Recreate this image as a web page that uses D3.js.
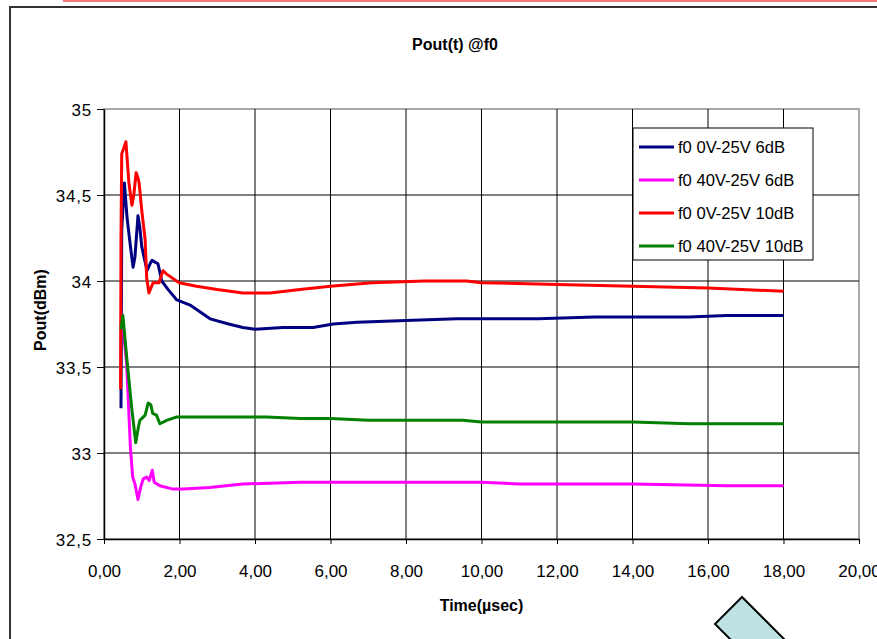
<!DOCTYPE html>
<html lang="en">
<head>
  <meta charset="UTF-8" />
  <title>Pout(t) @f0</title>
  <script src="https://d3js.org/d3.v7.min.js"></script>
  <style>
    body {
      margin: 0;
      background: #fff;
      font-family: 'Liberation Sans', Arial, sans-serif;
    }
    svg { display: block; }
    .tick text { fill: #000; }
  </style>
</head>
<body>
  <svg id="chart" width="877" height="639"></svg>

  <script>
    // series data (time in µsec, power in dBm)
    const seriesNames = ["f0 0V-25V 6dB", "f0 40V-25V 6dB", "f0 0V-25V 10dB", "f0 40V-25V 10dB"];
    const seriesColors = ["#000080", "#ff00ff", "#ff0000", "#008000"];

    const blueT = [0.45, 0.47, 0.54, 0.61, 0.69, 0.77, 0.82, 0.9, 0.95, 1.0, 1.14, 1.22, 1.27, 1.35, 1.43, 1.53, 1.7, 1.93, 2.28, 2.81, 3.3, 3.68, 4.0, 4.74, 5.54, 6.07, 6.7, 8.0, 9.35, 11.5, 13.0, 15.5, 16.5, 18.0];
    const blueV = [33.26, 34.3, 34.57, 34.37, 34.22, 34.08, 34.14, 34.38, 34.31, 34.2, 34.06, 34.1, 34.12, 34.11, 34.1, 34.0, 33.95, 33.89, 33.86, 33.78, 33.75, 33.73, 33.72, 33.73, 33.73, 33.75, 33.76, 33.77, 33.78, 33.78, 33.79, 33.79, 33.8, 33.8];

    const magentaT = [0.47, 0.6, 0.7, 0.76, 0.82, 0.9, 0.97, 1.04, 1.13, 1.2, 1.28, 1.33, 1.48, 1.83, 2.1, 2.8, 3.68, 5.2, 7.0, 10.0, 11.0, 14.0, 16.5, 18.0];
    const magentaV = [33.81, 33.52, 33.03, 32.86, 32.82, 32.73, 32.8, 32.85, 32.86, 32.84, 32.9, 32.83, 32.81, 32.79, 32.79, 32.8, 32.82, 32.83, 32.83, 32.83, 32.82, 32.82, 32.81, 32.81];

    const redT = [0.44, 0.45, 0.47, 0.52, 0.58, 0.66, 0.74, 0.79, 0.85, 0.9, 0.93, 1.0, 1.09, 1.13, 1.19, 1.3, 1.46, 1.56, 1.66, 1.99, 2.45, 3.0, 3.68, 4.4, 5.19, 6.0, 7.1, 8.5, 9.6, 10.0, 12.0, 14.0, 16.0, 18.0];
    const redV = [33.37, 34.25, 34.74, 34.77, 34.81, 34.57, 34.44, 34.5, 34.63, 34.6, 34.57, 34.41, 34.24, 34.02, 33.93, 33.99, 33.99, 34.06, 34.04, 33.99, 33.97, 33.95, 33.93, 33.93, 33.95, 33.97, 33.99, 34.0, 34.0, 33.99, 33.98, 33.97, 33.96, 33.94];

    const greenT = [0.45, 0.5, 0.6, 0.73, 0.84, 0.91, 0.95, 1.09, 1.17, 1.24, 1.29, 1.39, 1.48, 1.66, 1.93, 3.0, 4.3, 5.2, 6.0, 7.0, 8.0, 9.5, 10.0, 12.0, 14.0, 15.5, 16.0, 18.0];
    const greenV = [33.72, 33.8, 33.56, 33.27, 33.06, 33.15, 33.19, 33.22, 33.29, 33.28, 33.23, 33.22, 33.17, 33.19, 33.21, 33.21, 33.21, 33.2, 33.2, 33.19, 33.19, 33.19, 33.18, 33.18, 33.18, 33.17, 33.17, 33.17];

    const xTicks = [0, 2, 4, 6, 8, 10, 12, 14, 16, 18, 20];
    const yTicks = [32.5, 33, 33.5, 34, 34.5, 35];

    const seriesT = [blueT, magentaT, redT, greenT];
    const seriesV = [blueV, magentaV, redV, greenV];

    const locale = d3.formatLocale({ decimal: ",", thousands: ".", grouping: [3], currency: ["", ""] });
    const fmtX = locale.format(".2f");
    const fmtY = locale.format(".1~f");

    const svg = d3.select("#chart");
    const plot = { left: 104, right: 859, top: 109, bottom: 539 };

    const x = d3.scaleLinear().domain([0, 20]).range([plot.left, plot.right]);
    const y = d3.scaleLinear().domain([32.5, 35]).range([plot.bottom, plot.top]);

    // pink strip at the very top and the chart frame
    svg.append("line")
      .attr("x1", 63).attr("x2", 877).attr("y1", 1).attr("y2", 1)
      .attr("stroke", "#f47a7a").attr("stroke-width", 2);
    svg.append("rect")
      .attr("x", 10).attr("y", 7).attr("width", 900).attr("height", 700)
      .attr("fill", "#fff").attr("stroke", "#333").attr("stroke-width", 2);

    // plot area border (top/right gray)
    svg.append("rect")
      .attr("x", plot.left).attr("y", plot.top)
      .attr("width", plot.right - plot.left).attr("height", plot.bottom - plot.top)
      .attr("fill", "none").attr("stroke", "#8c8c8c").attr("stroke-width", 1.5);

    // gridlines
    svg.append("g").selectAll("line")
      .data(xTicks.filter(d => d > 0 && d < 20)).enter().append("line")
      .attr("x1", d => x(d)).attr("x2", d => x(d))
      .attr("y1", plot.top).attr("y2", plot.bottom)
      .attr("stroke", "#000").attr("stroke-width", 1);
    svg.append("g").selectAll("line")
      .data(yTicks.filter(d => d > 32.5 && d < 35)).enter().append("line")
      .attr("x1", plot.left).attr("x2", plot.right)
      .attr("y1", d => y(d)).attr("y2", d => y(d))
      .attr("stroke", "#000").attr("stroke-width", 1);

    // axes
    const gx = svg.append("g")
      .attr("transform", `translate(0,${plot.bottom})`)
      .call(d3.axisBottom(x).tickValues(xTicks).tickFormat(fmtX).tickSizeInner(5).tickSizeOuter(0).tickPadding(21));
    const gy = svg.append("g")
      .attr("transform", `translate(${plot.left},0)`)
      .call(d3.axisLeft(y).tickValues(yTicks).tickFormat(fmtY).tickSizeInner(7).tickSizeOuter(0).tickPadding(5));
    [gx, gy].forEach(g => {
      g.select(".domain").attr("stroke", "#000").attr("stroke-width", 1.5);
      g.selectAll(".tick line").attr("stroke", "#000");
      g.selectAll(".tick text").attr("font-family", "'Liberation Sans', Arial, sans-serif").attr("font-size", 17);
    });
    gy.selectAll(".tick text").attr("dy", "0.36em").attr("letter-spacing", 0.8);

    // series lines
    const line = d3.line().x(d => x(d[0])).y(d => y(d[1]));
    seriesNames.forEach((name, i) => {
      const pts = seriesT[i].map((t, j) => [t, seriesV[i][j]]);
      svg.append("path")
        .datum(pts)
        .attr("d", line)
        .attr("fill", "none")
        .attr("stroke", seriesColors[i])
        .attr("stroke-width", 3)
        .attr("stroke-linejoin", "round");
    });

    // titles
    svg.append("text")
      .attr("x", 455).attr("y", 50)
      .attr("text-anchor", "middle")
      .attr("font-size", 16).attr("font-weight", "bold")
      .text("Pout(t) @f0");
    svg.append("text")
      .attr("x", (plot.left + plot.right) / 2).attr("y", 611)
      .attr("text-anchor", "middle")
      .attr("font-size", 16).attr("font-weight", "bold")
      .text("Time(µsec)");
    svg.append("text")
      .attr("transform", "translate(46,310) rotate(-90)")
      .attr("text-anchor", "middle")
      .attr("font-size", 16).attr("font-weight", "bold")
      .text("Pout(dBm)");

    // legend
    const legend = svg.append("g").attr("transform", "translate(633,128)");
    legend.append("rect")
      .attr("width", 180).attr("height", 132)
      .attr("fill", "#fff").attr("stroke", "#000").attr("stroke-width", 1);
    seriesNames.forEach((name, i) => {
      const yy = 19 + i * 33;
      legend.append("line")
        .attr("x1", 6).attr("x2", 41).attr("y1", yy).attr("y2", yy)
        .attr("stroke", seriesColors[i]).attr("stroke-width", 3);
      legend.append("text")
        .attr("x", 45).attr("y", yy + 6)
        .attr("font-size", 16.6)
        .text(name);
    });

    // light blue shape at the bottom right
    svg.append("polygon")
      .attr("points", "742,597 715,624 760,669 787,642")
      .attr("fill", "#bde2e4").attr("stroke", "#000").attr("stroke-width", 2);
  </script>
</body>
</html>
